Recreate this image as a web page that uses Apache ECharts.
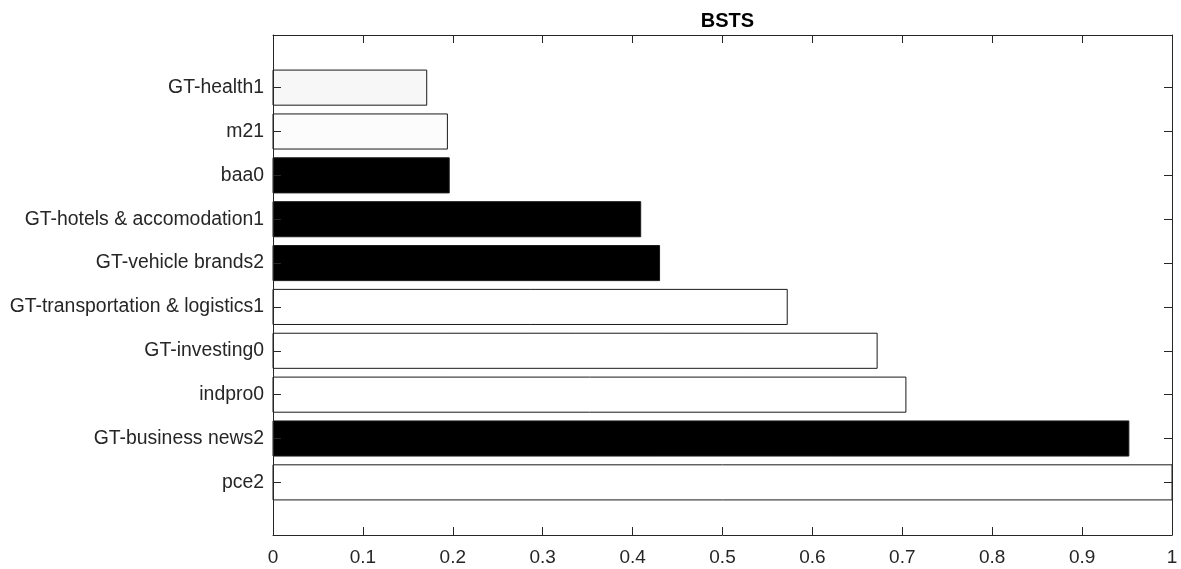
<!DOCTYPE html>
<html>
<head>
<meta charset="utf-8">
<script src="https://cdn.jsdelivr.net/npm/echarts@6/dist/echarts.min.js"></script>
<style>
html,body{margin:0;padding:0;background:#fff;}
#chart{width:1181px;height:569px;}
</style>
</head>
<body>
<div id="chart"></div>
<script>
// Categories listed bottom-to-top (position 1 = bottom)
var categories = ['pce2', 'GT-business news2', 'indpro0', 'GT-investing0', 'GT-transportation & logistics1',
  'GT-vehicle brands2', 'GT-hotels & accomodation1', 'baa0', 'm21', 'GT-health1'];
var values = [1.0, 0.952, 0.704, 0.672, 0.572, 0.430, 0.409, 0.196, 0.194, 0.171];
var fills = ['#ffffff', '#000000', '#ffffff', '#ffffff', '#ffffff', '#000000', '#000000', '#000000', '#fcfcfc', '#f7f7f7'];
var xTicks = [0, 0.1, 0.2, 0.3, 0.4, 0.5, 0.6, 0.7, 0.8, 0.9, 1];

var positions = categories.map(function (c, i) { return i + 1; });
var data = categories.map(function (c, i) { return [values[i], positions[i], i]; });

var axisColor = '#262626';
var font = 'Arial, "Liberation Sans", Helvetica, sans-serif';

function axisBase(pos) {
  return {
    position: pos, z: 5,
    axisLine: {show: true, onZero: false, lineStyle: {color: axisColor, width: 1}},
    axisTick: {show: true, inside: true, length: 8, lineStyle: {color: axisColor}},
    splitLine: {show: false}
  };
}

var xBottom = Object.assign(axisBase('bottom'), {
  type: 'value', min: 0, max: 1, interval: 0.1,
  axisLabel: {
    margin: 13, color: axisColor, fontFamily: font, fontSize: 19,
    customValues: xTicks,
    formatter: function (v) { return String(Math.round(v * 10) / 10); }
  }
});
var xTop = Object.assign(axisBase('top'), {
  type: 'value', min: 0, max: 1, interval: 0.1, axisLabel: {show: false}
});
var yLeft = Object.assign(axisBase('left'), {
  type: 'value', min: -0.2, max: 11.2,
  axisLabel: {
    margin: 9, color: axisColor, fontFamily: font, fontSize: 19.4,
    customValues: positions,
    formatter: function (v) { return categories[Math.round(v) - 1] || ''; }
  }
});
yLeft.axisTick.customValues = positions;
var yRight = Object.assign(axisBase('right'), {
  type: 'value', min: -0.2, max: 11.2, axisLabel: {show: false}
});
yRight.axisTick.customValues = positions;

var chart = echarts.init(document.getElementById('chart'), null, {renderer: 'canvas'});
chart.setOption({
  animation: false,
  backgroundColor: '#ffffff',
  title: {
    text: 'BSTS',
    left: 722.5, textAlign: 'center',
    top: 6,
    textStyle: {fontFamily: font, fontSize: 20, fontWeight: 'bold', color: '#000'}
  },
  grid: {left: 273, right: 9, top: 35, bottom: 34, containLabel: false},
  xAxis: [xBottom, xTop],
  yAxis: [yLeft, yRight],
  series: [{
    type: 'custom',
    z: 1,
    xAxisIndex: 0, yAxisIndex: 0,
    data: data,
    encode: {x: 0, y: 1},
    renderItem: function (params, api) {
      var v = api.value(0), p = api.value(1), idx = api.value(2);
      var start = api.coord([0, p]);
      var end = api.coord([v, p]);
      var h = api.size([0, 0.8])[1];
      return {
        type: 'rect',
        shape: {x: start[0], y: start[1] - h / 2, width: end[0] - start[0], height: h},
        style: {fill: fills[idx], stroke: '#1a1a1a', lineWidth: 1}
      };
    }
  }]
});
</script>
</body>
</html>
